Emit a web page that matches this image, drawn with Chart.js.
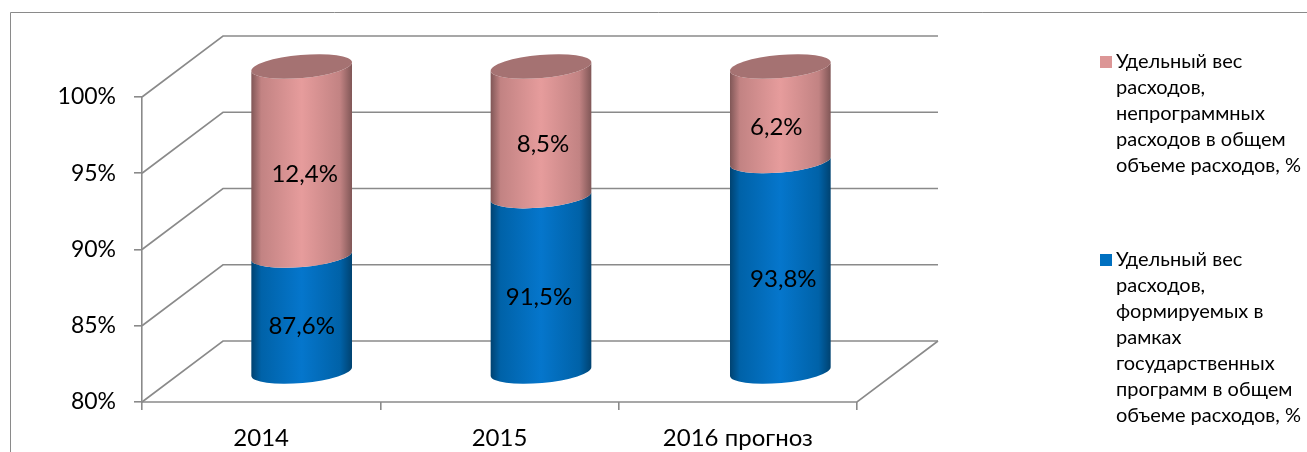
<!DOCTYPE html>
<html lang="ru">
<head>
    <meta charset="UTF-8">
    <title>Удельный вес расходов</title>
    <script src="https://cdn.jsdelivr.net/npm/chart.js"></script>
    <style>
        body {
            margin: 0;
            background-color: #fff;
            overflow: hidden;
        }
        canvas {
            display: block;
        }
    </style>
</head>
<body>
    <canvas id="shareChart" width="1307" height="452"></canvas>
    <script>
        const categories = ['2014', '2015', '2016 прогноз'];
        const programShare = [87.6, 91.5, 93.8];
        const otherShare = [12.4, 8.5, 6.2];
        const programLegend = ['Удельный вес', 'расходов,', 'формируемых в', 'рамках', 'государственных', 'программ в общем', 'объеме расходов, %'];
        const otherLegend = ['Удельный вес', 'расходов,', 'непрограммных', 'расходов в общем', 'объеме расходов, %'];

        const FONT = 'Lato, "Open Sans", sans-serif';
        const GRID = '#8a8a8a';
        // 3D depth of the floor, front edge to back wall
        const DEPTH_X = 81;
        const DEPTH_Y = -61;
        const TILT = -5 * Math.PI / 180;
        // the original has a little perspective, cylinders drift right by category
        const DRIFT = 1;
        // labels sit a bit off centre in the original
        const LABEL_NUDGE = [[0, -2, 3], [3, 2, -4]];

        function sideGradient(ctx, left, right, edge, mid, light) {
            const g = ctx.createLinearGradient(left, 0, right, 0);
            g.addColorStop(0, edge);
            g.addColorStop(0.1, mid);
            g.addColorStop(0.5, light);
            g.addColorStop(0.88, mid);
            g.addColorStop(1, edge);
            return g;
        }

        const framePlugin = {
            id: 'frame',
            beforeDraw(chart) {
                const ctx = chart.ctx;
                ctx.save();
                ctx.strokeStyle = '#8a8a8a';
                ctx.lineWidth = 1;
                ctx.beginPath();
                ctx.moveTo(10.5, 452);
                ctx.lineTo(10.5, 12.5);
                ctx.lineTo(1307, 12.5);
                ctx.stroke();
                ctx.restore();
            }
        };

        const wallPlugin = {
            id: 'wall',
            beforeDatasetsDraw(chart) {
                const { ctx, chartArea, scales } = chart;
                ctx.save();
                ctx.strokeStyle = GRID;
                ctx.lineWidth = 1.6;
                scales.y.ticks.forEach(tick => {
                    const y = scales.y.getPixelForValue(tick.value);
                    ctx.beginPath();
                    ctx.moveTo(chartArea.left, y);
                    ctx.lineTo(chartArea.left + DEPTH_X, y + DEPTH_Y);
                    ctx.lineTo(chartArea.right + DEPTH_X, y + DEPTH_Y);
                    ctx.stroke();
                });
                // floor
                ctx.beginPath();
                ctx.moveTo(chartArea.left, chartArea.bottom);
                ctx.lineTo(chartArea.right, chartArea.bottom);
                ctx.lineTo(chartArea.right + DEPTH_X, chartArea.bottom + DEPTH_Y);
                ctx.stroke();
                ctx.restore();
            }
        };

        // the bars themselves are transparent, the cylinders are drawn over their elements
        const cylinderPlugin = {
            id: 'cylinder',
            afterDatasetsDraw(chart) {
                const { ctx, scales } = chart;
                const floorY = scales.y.getPixelForValue(scales.y.min);
                chart.data.datasets.forEach((ds, i) => {
                    chart.getDatasetMeta(i).data.forEach((bar, j) => {
                        const a = bar.width / 2;
                        const b = 11.5;
                        const cx = bar.x + DEPTH_X / 2 + j * DRIFT;
                        const top = bar.y + DEPTH_Y / 2;
                        const base = Math.min(bar.base, floorY) + DEPTH_Y / 2;
                        ctx.save();
                        ctx.fillStyle = sideGradient(ctx, cx - a, cx + a, ds.edgeColor, ds.midColor, ds.lightColor);
                        ctx.beginPath();
                        ctx.ellipse(cx, top, a, b, TILT, 0, Math.PI);
                        ctx.ellipse(cx, base, a, b, TILT, Math.PI, 0, true);
                        ctx.closePath();
                        ctx.fill();
                        if (ds.capColor) {
                            ctx.fillStyle = ds.capColor;
                            ctx.beginPath();
                            ctx.ellipse(cx, top, a, b, TILT, 0, Math.PI * 2);
                            ctx.fill();
                        }
                        ctx.restore();
                    });
                });
                // labels go last so no cylinder covers them
                chart.data.datasets.forEach((ds, i) => {
                    chart.getDatasetMeta(i).data.forEach((bar, j) => {
                        const top = bar.y + DEPTH_Y / 2;
                        const base = Math.min(bar.base, floorY) + DEPTH_Y / 2;
                        const cx = bar.x + DEPTH_X / 2 + j * DRIFT + LABEL_NUDGE[i][j];
                        ctx.save();
                        ctx.fillStyle = '#000';
                        ctx.font = '24px ' + FONT;
                        ctx.textAlign = 'center';
                        ctx.textBaseline = 'middle';
                        const text = ds.data[j].toFixed(1).replace('.', ',') + '%';
                        ctx.fillText(text, cx, (top + base) / 2 + 13);
                        ctx.restore();
                    });
                });
            }
        };

        const legendPlugin = {
            id: 'sideLegend',
            afterDraw(chart) {
                const ctx = chart.ctx;
                const blocks = [
                    { lines: otherLegend, color: '#dc9696', y: 62 },
                    { lines: programLegend, color: '#0070c0', y: 260 }
                ];
                ctx.save();
                ctx.textBaseline = 'middle';
                ctx.font = '20px ' + FONT;
                blocks.forEach(block => {
                    ctx.fillStyle = block.color;
                    ctx.fillRect(1100, block.y - 6, 12, 12);
                    ctx.fillStyle = '#000';
                    block.lines.forEach((line, n) => {
                        ctx.fillText(line, 1116, block.y + n * 26);
                    });
                });
                ctx.restore();
            }
        };

        new Chart(document.getElementById('shareChart'), {
            type: 'bar',
            data: {
                labels: categories,
                datasets: [
                    {
                        label: programLegend.join(' '),
                        data: programShare,
                        backgroundColor: 'transparent',
                        edgeColor: '#004270',
                        midColor: '#0062a8',
                        lightColor: '#0576cc'
                    },
                    {
                        label: otherLegend.join(' '),
                        data: otherShare,
                        backgroundColor: 'transparent',
                        edgeColor: '#7f5656',
                        midColor: '#c28383',
                        lightColor: '#e69c9c',
                        capColor: '#a57272'
                    }
                ]
            },
            options: {
                responsive: false,
                animation: false,
                layout: { padding: { top: 97, right: 450 } },
                plugins: {
                    legend: { display: false },
                    tooltip: { enabled: false }
                },
                datasets: {
                    bar: { barPercentage: 0.424, categoryPercentage: 1 }
                },
                scales: {
                    x: {
                        stacked: true,
                        afterFit: scale => { scale.height = 50; },
                        grid: { drawOnChartArea: false, color: GRID, lineWidth: 1.6, tickLength: 8, offset: true },
                        border: { display: false },
                        ticks: { color: '#000', font: { family: FONT, size: 24 }, padding: 14, maxRotation: 0 }
                    },
                    y: {
                        stacked: true,
                        min: 80,
                        max: 100,
                        afterFit: scale => { scale.width = 142; },
                        grid: { drawOnChartArea: false, color: GRID, lineWidth: 1.6, tickLength: 8 },
                        border: { color: GRID, width: 1.6 },
                        ticks: {
                            stepSize: 5,
                            color: '#000',
                            font: { family: FONT, size: 23 },
                            padding: 18,
                            callback: value => value + '%'
                        }
                    }
                }
            },
            plugins: [framePlugin, wallPlugin, cylinderPlugin, legendPlugin]
        });
    </script>
</body>
</html>
